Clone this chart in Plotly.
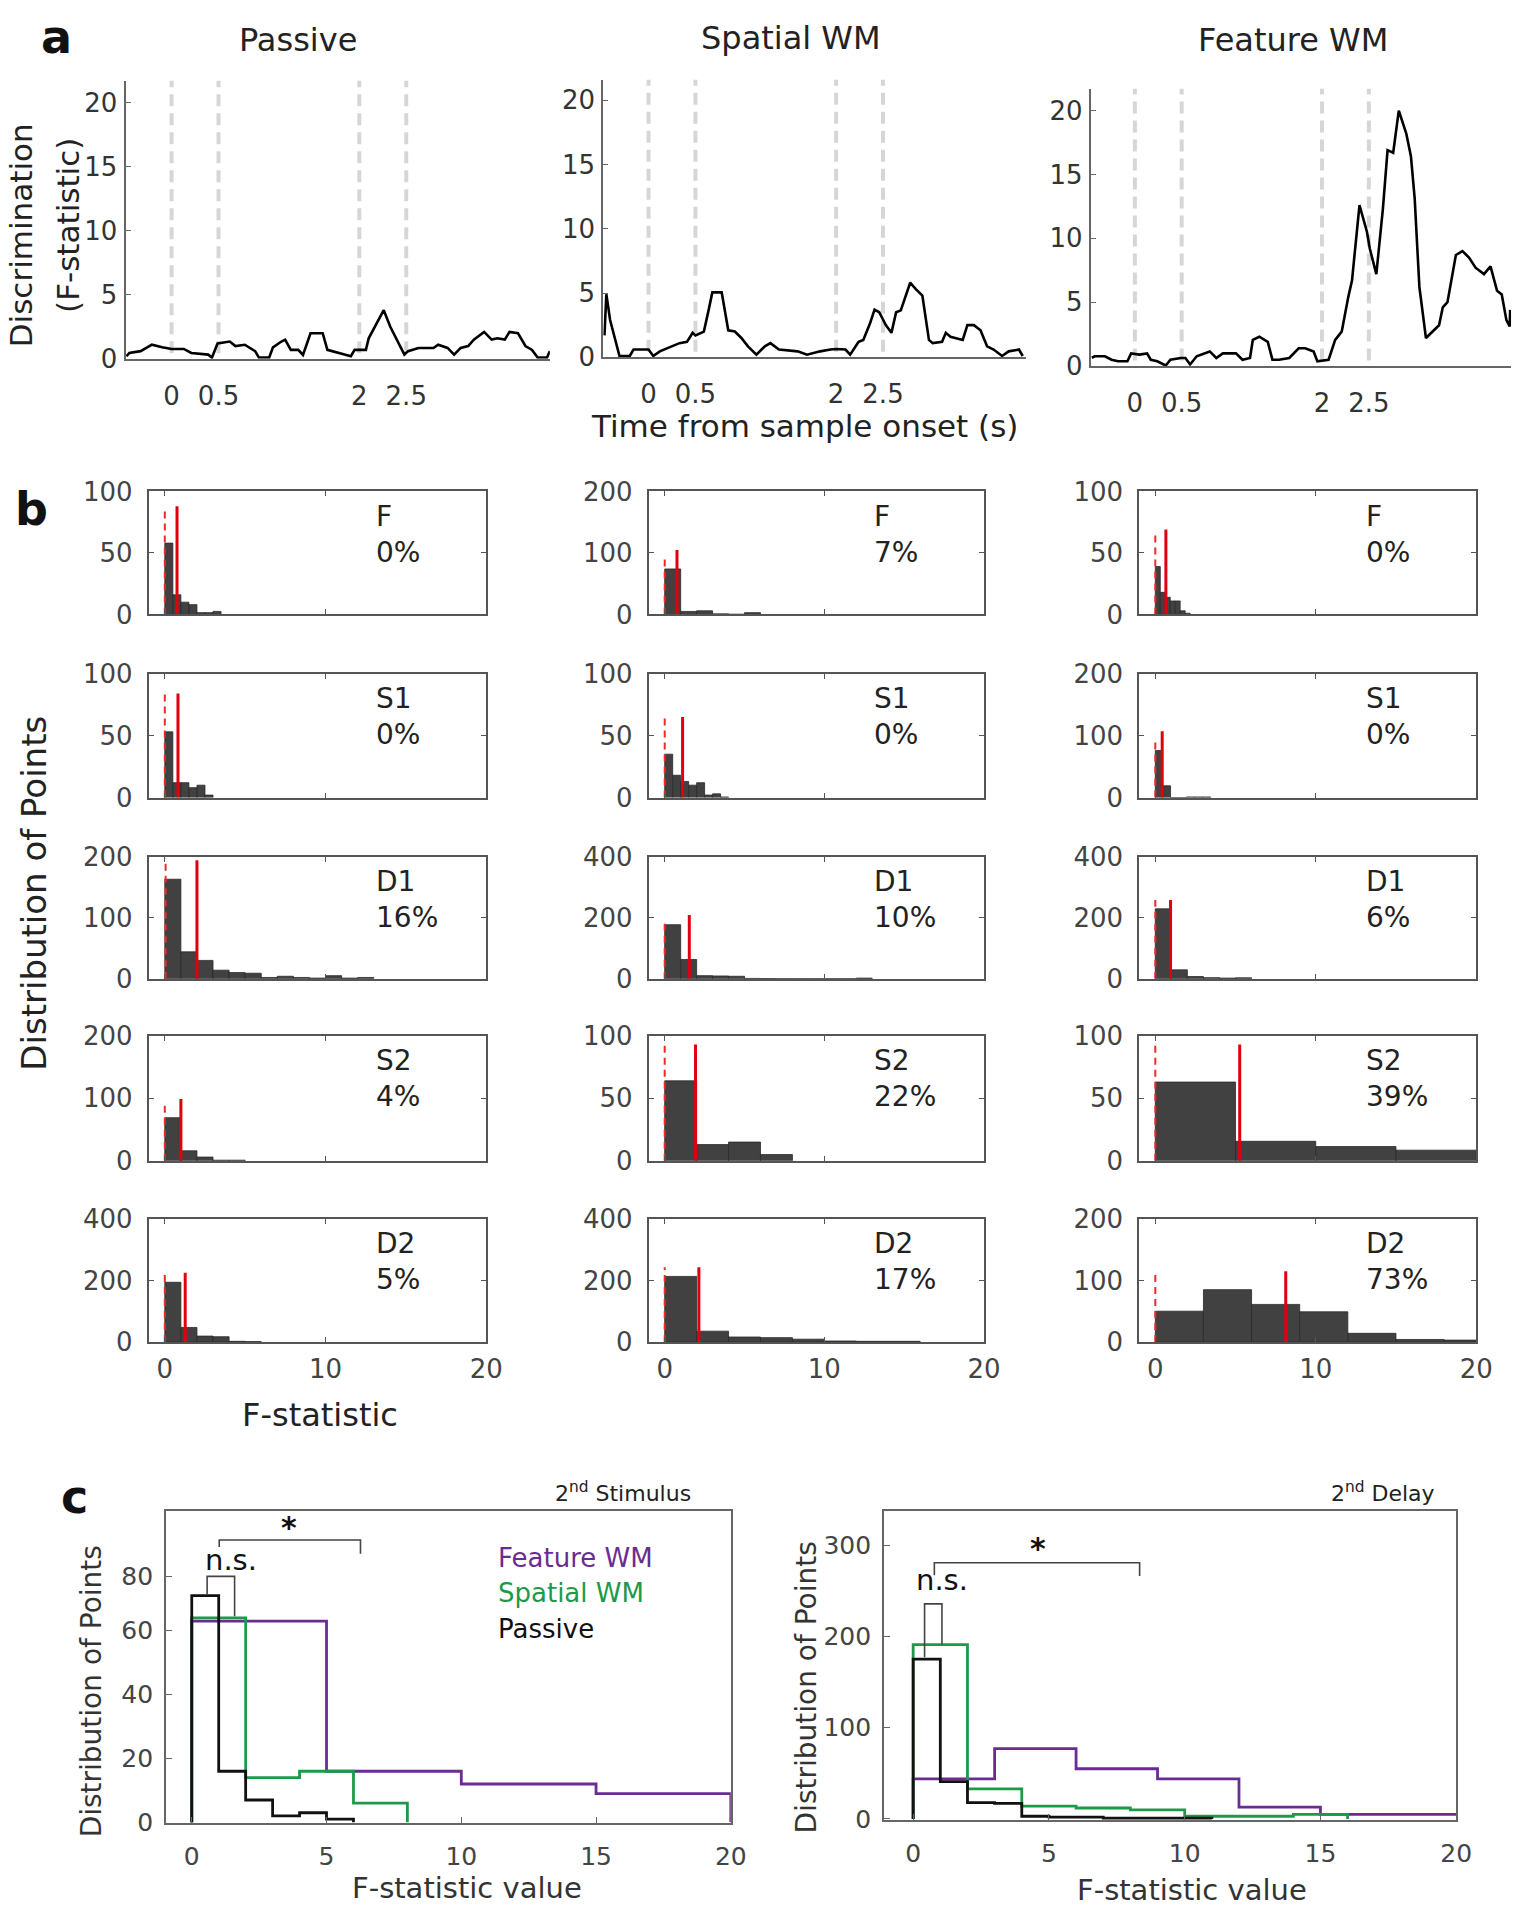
import plotly.graph_objects as go

W, H = 1537, 1920
FONT = "DejaVu Sans"

# ---------------- Panel a data ----------------
a_titles = ["Passive", "Spatial WM", "Feature WM"]
event_times = [0, 0.5, 2, 2.5]
event_labels = ["0", "0.5", "2", "2.5"]
f_ticks = [0, 5, 10, 15, 20]

passive_trace = [(-0.48, 0.2), (-0.45, 0.46), (-0.33, 0.6), (-0.21, 1.1), (-0.1, 0.9), (0.0, 0.77),
                 (0.13, 0.77), (0.21, 0.46), (0.39, 0.33), (0.43, 0.1), (0.49, 1.2), (0.62, 1.35),
                 (0.68, 1.0), (0.78, 1.1), (0.89, 0.6), (0.93, 0.1), (1.04, 0.1), (1.08, 0.9),
                 (1.17, 1.35), (1.21, 1.5), (1.27, 0.7), (1.35, 0.7), (1.40, 0.3), (1.48, 2.0),
                 (1.61, 2.0), (1.66, 0.7), (1.91, 0.2), (1.95, 0.7), (2.07, 0.7), (2.10, 1.6),
                 (2.26, 3.8), (2.33, 2.5), (2.48, 0.33), (2.52, 0.6), (2.63, 0.85), (2.79, 0.85),
                 (2.84, 1.1), (2.94, 0.85), (3.01, 0.33), (3.08, 0.85), (3.16, 1.0), (3.22, 1.5),
                 (3.33, 2.1), (3.41, 1.5), (3.47, 1.6), (3.55, 1.5), (3.60, 2.1), (3.69, 2.0),
                 (3.77, 1.0), (3.84, 0.7), (3.90, 0.1), (4.00, 0.1), (4.03, 0.6)]

spatial_trace = [(-0.47, 1.7), (-0.45, 4.9), (-0.41, 2.9), (-0.36, 1.5), (-0.31, 0.1), (-0.20, 0.1),
                 (-0.16, 0.6), (0.0, 0.6), (0.05, 0.1), (0.12, 0.46), (0.26, 0.85), (0.33, 1.1),
                 (0.41, 1.2), (0.47, 1.9), (0.50, 1.7), (0.59, 2.0), (0.64, 3.65), (0.68, 5.05),
                 (0.78, 5.05), (0.85, 2.1), (0.92, 2.0), (0.99, 1.5), (1.06, 0.85), (1.15, 0.2),
                 (1.24, 0.85), (1.30, 1.1), (1.39, 0.6), (1.59, 0.46), (1.69, 0.2), (1.83, 0.46),
                 (1.94, 0.6), (2.0, 0.64), (2.10, 0.6), (2.15, 0.2), (2.24, 1.2), (2.29, 1.35),
                 (2.36, 2.6), (2.41, 3.7), (2.46, 3.5), (2.53, 2.5), (2.59, 1.9), (2.64, 3.5),
                 (2.69, 3.65), (2.74, 4.7), (2.79, 5.8), (2.85, 5.3), (2.92, 4.8), (2.99, 1.35),
                 (3.03, 1.1), (3.13, 1.2), (3.17, 1.9), (3.22, 1.6), (3.35, 1.35), (3.40, 2.5),
                 (3.47, 2.5), (3.54, 2.1), (3.61, 0.85), (3.68, 0.6), (3.77, 0.1), (3.84, 0.46),
                 (3.95, 0.6), (3.99, 0.1)]

feature_trace = [(-0.46, 0.64), (-0.43, 0.77), (-0.32, 0.77), (-0.25, 0.5), (-0.18, 0.38), (-0.08, 0.38),
                 (-0.04, 1.0), (0.05, 0.9), (0.13, 1.0), (0.17, 0.5), (0.24, 0.38), (0.33, 0.05),
                 (0.38, 0.5), (0.49, 0.64), (0.54, 0.64), (0.59, 0.13), (0.66, 0.77), (0.80, 1.15),
                 (0.87, 0.64), (0.94, 1.0), (1.08, 1.0), (1.15, 0.5), (1.23, 0.64), (1.26, 2.05),
                 (1.33, 2.3), (1.42, 1.9), (1.47, 0.5), (1.54, 0.5), (1.65, 0.64), (1.75, 1.4),
                 (1.82, 1.4), (1.91, 1.15), (1.95, 0.38), (2.07, 0.5), (2.14, 2.05), (2.21, 2.7),
                 (2.28, 5.4), (2.32, 6.7), (2.40, 12.6), (2.48, 10.5), (2.51, 9.2), (2.58, 7.2),
                 (2.65, 12.3), (2.70, 16.9), (2.76, 16.7), (2.82, 20.0), (2.90, 18.2), (2.95, 16.4),
                 (2.99, 13.1), (3.04, 6.2), (3.11, 2.2), (3.20, 2.8), (3.25, 3.2), (3.29, 4.6),
                 (3.34, 5.0), (3.43, 8.7), (3.50, 9.0), (3.57, 8.5), (3.64, 7.7), (3.73, 7.2),
                 (3.80, 7.8), (3.87, 5.9), (3.92, 5.6), (3.97, 3.6), (4.005, 3.1), (4.01, 4.4)]

# ---------------- Panel b data ----------------
epochs = ["F", "S1", "D1", "S2", "D2"]

passive_edges = [[0, 0.5, 1, 1.5, 2, 2.5, 3, 3.5],
                 [0, 0.5, 1, 1.5, 2, 2.5, 3],
                 [0, 1, 2, 3, 4, 5, 6, 7, 8, 9, 10, 11, 12, 13],
                 [0, 1, 2, 3, 4, 5],
                 [0, 1, 2, 3, 4, 5, 6]]
passive_counts = [[58, 16, 10, 8, 1.5, 1.5, 2.5],
                  [53, 12, 12, 8, 10, 2],
                  [163, 44, 30, 14, 10, 9, 2, 4, 2, 1, 5, 1, 2],
                  [69, 16, 6, 1, 1],
                  [194, 47, 19, 17, 2, 1]]
passive_mean = [0.76, 0.82, 2.0, 1.0, 1.27]
passive_mean_h = [88, 84, 194, 99, 225]
passive_null = [0, 0, 0.05, 0, 0]
passive_null_h = [84, 84, 197, 92, 225]
passive_pct = ["0%", "0%", "16%", "4%", "5%"]
passive_ymax = [100, 100, 200, 200, 400]

spatial_edges = [[0, 1, 2, 3, 4, 5, 6],
                 [0, 0.5, 1, 1.5, 2, 2.5, 3, 3.5, 4],
                 [0, 1, 2, 3, 4, 5, 6, 7, 8, 9, 10, 11, 12, 13],
                 [0, 2, 4, 6, 8],
                 [0, 2, 4, 6, 8, 10, 12, 14, 16]]
spatial_counts = [[74, 5, 6, 1, 0.5, 3],
                  [35, 18, 13, 10, 12, 2, 3, 0.5],
                  [177, 63, 10, 9, 8, 1, 0.5, 0, 0, 0, 0, 0, 2],
                  [64, 13, 15, 5],
                  [213, 35, 16, 14, 9, 3, 2, 2]]
spatial_mean = [0.77, 1.12, 1.54, 1.93, 2.14]
spatial_mean_h = [105, 65, 209, 93, 243]
spatial_null = [0, 0, 0, 0, 0]
spatial_null_h = [94, 65, 185, 92, 243]
spatial_pct = ["7%", "0%", "10%", "22%", "17%"]
spatial_ymax = [200, 100, 400, 100, 400]

feature_edges = [[0, 0.31, 0.62, 0.93, 1.24, 1.55, 1.86, 2.17],
                 [0, 0.45, 0.95, 1.45, 1.95, 2.45, 2.95, 3.45],
                 [0, 1, 2, 3, 4, 5, 6],
                 [0, 5, 10, 15, 20],
                 [0, 3, 6, 9, 12, 15, 18, 21]]
feature_counts = [[39, 18, 14, 11, 11, 3, 1],
                  [76, 19, 0, 0, 1, 1, 1],
                  [229, 29, 7, 3.5, 2, 3],
                  [63, 15.6, 11.4, 8.5],
                  [50, 85, 61, 49, 14, 4, 3]]
feature_mean = [0.66, 0.43, 0.95, 5.26, 8.13]
feature_mean_h = [69, 107, 258, 93, 115]
feature_null = [0, 0, 0, 0, 0]
feature_null_h = [66, 94, 258, 94, 116]
feature_pct = ["0%", "0%", "6%", "39%", "73%"]
feature_ymax = [100, 200, 400, 100, 200]

b_xticks = [0, 10, 20]

# ---------------- Panel c data ----------------
c_xticks = [0, 5, 10, 15, 20]
stim_ytick_pos = [0, 20, 40, 60, 77]
stim_ytick_text = ["0", "20", "40", "60", "80"]
delay_ytick_pos = [0, 100, 200, 300]
delay_ytick_text = ["0", "100", "200", "300"]

stim_feature_edges = [0, 5, 10, 15, 20]
stim_feature_counts = [63, 16, 12, 9]
stim_spatial_edges = [0, 2, 4, 6, 8]
stim_spatial_counts = [64, 14, 16, 6]
stim_passive_edges = [0, 1, 2, 3, 4, 5, 6]
stim_passive_counts = [71, 16, 7, 2, 3, 1]

delay_feature_edges = [0, 3, 6, 9, 12, 15, 18, 21]
delay_feature_counts = [44, 77, 55, 44, 13, 5, 5]
delay_spatial_edges = [0, 2, 4, 6, 8, 10, 12, 14, 16]
delay_spatial_counts = [191, 33, 14, 12, 10, 3, 3, 5]
delay_passive_edges = [0, 1, 2, 3, 4, 5, 6, 7, 8, 9, 10, 11]
delay_passive_counts = [175, 41, 18, 17, 3, 2, 2, 1, 1, 1, 1]

# significance brackets: (x_left, x_right, y_top, y_left_end, y_right_end)
stim_ns_bracket = (0.57, 1.59, 77, 71.5, 64.5)
stim_star_bracket = (1.02, 6.26, 88.4, 86.2, 84.1)
delay_ns_bracket = (0.42, 1.06, 235.6, 177, 191)
delay_star_bracket = (0.78, 8.34, 280.6, 267, 266)
stim_ns_text = (1.46, 82)
stim_star_text = (3.61, 92.3)
delay_ns_text = (1.06, 262)
delay_star_text = (4.6, 296)

COL_FEATURE = "#6a2c91"
COL_SPATIAL = "#1c9a4a"
COL_PASSIVE = "#111111"

# ---------------- Build figure ----------------
fig = go.Figure()
layout = dict(width=W, height=H, autosize=False, margin=dict(l=0, r=0, t=0, b=0),
              paper_bgcolor="white", plot_bgcolor="white", showlegend=False,
              font=dict(family=FONT, color="#333"))
shapes = []
annotations = []
counter = [0]


def new_axes(box, xopt, yopt):
    l, t, r, b = box
    counter[0] += 1
    n = counter[0]
    s = "" if n == 1 else str(n)
    layout["xaxis" + s] = dict(domain=[l / W, r / W], anchor="y" + s, showgrid=False, zeroline=False, **xopt)
    layout["yaxis" + s] = dict(domain=[1 - b / H, 1 - t / H], anchor="x" + s, showgrid=False, zeroline=False, **yopt)
    return "x" + s, "y" + s


def paper_text(text, x, y, size, color="#222", angle=0, xanchor="center", yanchor="middle", bold=False):
    if bold:
        text = "<b>" + text + "</b>"
    annotations.append(dict(text=text, x=x / W, y=1 - y / H, xref="paper", yref="paper", showarrow=False,
                            textangle=angle, xanchor=xanchor, yanchor=yanchor,
                            font=dict(size=size, color=color, family=FONT)))


# ---- Panel a ----
a_boxes = [(127, 66.7, 556, 349.3), (610, 65.7, 1037, 347.7), (1103, 75, 1528, 356.7)]
a_xranges = [(-0.49, 4.03), (-0.483, 4.02), (-0.471, 4.02)]
a_ytops = [21.7, 21.6, 21.7]
a_traces = [passive_trace, spatial_trace, feature_trace]
a_title_pos = [(301, 25), (800, 23), (1307, 25)]

for i in range(3):
    xr, yr = new_axes(
        a_boxes[i],
        dict(range=list(a_xranges[i]), showline=True, linecolor="#666", linewidth=2, ticks="",
             tickvals=event_times, ticktext=event_labels, ticklabelstandoff=13,
             tickfont=dict(size=26, color="#333", family=FONT)),
        dict(range=[0, a_ytops[i]], showline=True, linecolor="#666", linewidth=2, ticks="inside",
             ticklen=5, tickcolor="#666", tickvals=f_ticks, ticklabelstandoff=1,
             tickfont=dict(size=26, color="#333", family=FONT)))
    for e in event_times:
        shapes.append(dict(type="line", xref=xr, yref=yr + " domain", x0=e, x1=e, y0=0.02, y1=1,
                           line=dict(color="#d6d6d6", width=4, dash="12px,7px"), layer="below"))
    tr = a_traces[i]
    fig.add_trace(go.Scatter(x=[p[0] for p in tr], y=[p[1] for p in tr], mode="lines",
                             line=dict(color="black", width=2.6), xaxis=xr, yaxis=yr))
    paper_text(a_titles[i], a_title_pos[i][0], a_title_pos[i][1], 32, color="#222")

paper_text("Discrimination", 21, 224, 31, angle=-90, color="#222")
paper_text("(F-statistic)", 68, 214, 31, angle=-90, color="#222")
paper_text("Time from sample onset (s)", 813, 418, 31, color="#222")

# ---- Panel b ----
b_cols = [(150.4, 491.7), (656, 995), (1152, 1492.7)]
b_rows = [(484, 609), (669, 795), (855, 979), (1037, 1164), (1223, 1348)]
tasks = [
    (passive_edges, passive_counts, passive_mean, passive_mean_h, passive_null, passive_null_h, passive_pct, passive_ymax),
    (spatial_edges, spatial_counts, spatial_mean, spatial_mean_h, spatial_null, spatial_null_h, spatial_pct, spatial_ymax),
    (feature_edges, feature_counts, feature_mean, feature_mean_h, feature_null, feature_null_h, feature_pct, feature_ymax),
]
for c, (edges_l, counts_l, mean_l, mean_h, null_l, null_h, pct_l, ymax_l) in enumerate(tasks):
    for r in range(5):
        box = (b_cols[c][0], b_rows[r][0], b_cols[c][1], b_rows[r][1])
        ymax = ymax_l[r]
        xr, yr = new_axes(
            box,
            dict(range=[-1, 20], showline=True, mirror="ticks", linecolor="#555", linewidth=2,
                 ticks="inside", ticklen=5, tickcolor="#555", tickvals=b_xticks,
                 showticklabels=(r == 4), ticklabelstandoff=3,
                 tickfont=dict(size=26, color="#444", family=FONT)),
            dict(range=[0, ymax], showline=True, mirror="ticks", linecolor="#555", linewidth=2,
                 ticks="inside", ticklen=5, tickcolor="#555", tickvals=[0, ymax / 2, ymax],
                 ticktext=[str(0), str(ymax // 2), str(ymax)], ticklabelstandoff=9,
                 tickfont=dict(size=26, color="#444", family=FONT)))
        edges = edges_l[r]
        counts = counts_l[r]
        centers = [(edges[k] + edges[k + 1]) / 2 for k in range(len(counts))]
        widths = [edges[k + 1] - edges[k] for k in range(len(counts))]
        fig.add_trace(go.Bar(x=centers, y=counts, width=widths,
                             marker=dict(color="#414141", line=dict(color="#2a2a2a", width=0.8)),
                             xaxis=xr, yaxis=yr))
        fig.add_trace(go.Scatter(x=[null_l[r], null_l[r]], y=[0, null_h[r]], mode="lines",
                                 line=dict(color="#f02828", width=2, dash="7px,5px"), xaxis=xr, yaxis=yr))
        fig.add_trace(go.Scatter(x=[mean_l[r], mean_l[r]], y=[0, mean_h[r]], mode="lines",
                                 line=dict(color="#e0000e", width=3), xaxis=xr, yaxis=yr))
        annotations.append(dict(text=epochs[r] + "<br>" + pct_l[r], x=13, y=0.95, xref=xr, yref=yr + " domain",
                                xanchor="left", yanchor="top", align="left", showarrow=False,
                                font=dict(size=28, color="#222", family=FONT)))

paper_text("Distribution of Points", 34, 892, 34, angle=-90, color="#222")
paper_text("F-statistic", 324, 1422, 32, color="#222")


# ---- Panel c ----
def step_xy(edges, counts):
    xs = [edges[0]]
    ys = [0]
    for k in range(len(counts)):
        xs.append(edges[k])
        ys.append(counts[k])
    xs.append(edges[-1])
    ys.append(counts[-1])
    xs.append(edges[-1])
    ys.append(0)
    return xs, ys


c_boxes = [(168, 1520, 739, 1837), (894, 1520, 1472.5, 1834)]
c_xranges = [(-0.95, 20), (-1.07, 20)]
c_yranges = [(-0.3, 97.4), (-1.5, 337)]
c_ytick_pos = [stim_ytick_pos, delay_ytick_pos]
c_ytick_text = [stim_ytick_text, delay_ytick_text]
c_series = [
    [(stim_feature_edges, stim_feature_counts, COL_FEATURE),
     (stim_spatial_edges, stim_spatial_counts, COL_SPATIAL),
     (stim_passive_edges, stim_passive_counts, COL_PASSIVE)],
    [(delay_feature_edges, delay_feature_counts, COL_FEATURE),
     (delay_spatial_edges, delay_spatial_counts, COL_SPATIAL),
     (delay_passive_edges, delay_passive_counts, COL_PASSIVE)],
]
c_brackets = [(stim_ns_bracket, stim_star_bracket, stim_ns_text, stim_star_text),
              (delay_ns_bracket, delay_star_bracket, delay_ns_text, delay_star_text)]

for i in range(2):
    xr, yr = new_axes(
        c_boxes[i],
        dict(range=list(c_xranges[i]), showline=True, mirror=True, linecolor="#666", linewidth=2,
             ticks="inside", ticklen=6, tickcolor="#666", tickvals=c_xticks, ticklabelstandoff=10,
             tickfont=dict(size=25, color="#444", family=FONT)),
        dict(range=list(c_yranges[i]), showline=True, mirror=True, linecolor="#666", linewidth=2,
             ticks="inside", ticklen=6, tickcolor="#666", tickvals=c_ytick_pos[i], ticktext=c_ytick_text[i],
             ticklabelstandoff=6, tickfont=dict(size=25, color="#444", family=FONT)))
    for edges, counts, col in c_series[i]:
        xs, ys = step_xy(edges, counts)
        fig.add_trace(go.Scatter(x=xs, y=ys, mode="lines", line=dict(color=col, width=2.8, shape="hv"),
                                 xaxis=xr, yaxis=yr))
    ns_b, st_b, ns_t, st_t = c_brackets[i]
    for br in (ns_b, st_b):
        x0, x1, top, b0, b1 = br
        shapes.append(dict(type="path", xref=xr, yref=yr,
                           path=f"M {x0},{b0} L {x0},{top} L {x1},{top} L {x1},{b1}",
                           line=dict(color="#444", width=1.6)))
    annotations.append(dict(text="n.s.", x=ns_t[0], y=ns_t[1], xref=xr, yref=yr, showarrow=False,
                            font=dict(size=29, color="#111", family=FONT)))
    annotations.append(dict(text="<b>*</b>", x=st_t[0], y=st_t[1], xref=xr, yref=yr, showarrow=False,
                            font=dict(size=30, color="#111", family=FONT)))

paper_text("Feature WM", 502, 1567, 26, color=COL_FEATURE, xanchor="left")
paper_text("Spatial WM", 502, 1603, 26, color=COL_SPATIAL, xanchor="left")
paper_text("Passive", 502, 1640, 26, color=COL_PASSIVE, xanchor="left")
paper_text("2<sup>nd</sup> Stimulus", 630, 1500, 22, color="#222")
paper_text("2<sup>nd</sup> Delay", 1398, 1500, 22, color="#222")
paper_text("Distribution of Points", 92, 1703, 28, angle=-90, color="#333")
paper_text("Distribution of Points", 815, 1699, 28, angle=-90, color="#333")
paper_text("F-statistic value", 472, 1903, 29, color="#333")
paper_text("F-statistic value", 1205, 1905, 29, color="#333")

# panel letters
paper_text("a", 57, 22, 46, color="#111", bold=True)
paper_text("b", 32, 502, 46, color="#111", bold=True)
paper_text("c", 75, 1506, 46, color="#111", bold=True)

layout["shapes"] = shapes
layout["annotations"] = annotations
fig.update_layout(**layout)
fig.write_html("out.html", config={"displayModeBar": False},
               post_script="document.body.style.margin='0px';document.body.style.overflow='hidden';")
